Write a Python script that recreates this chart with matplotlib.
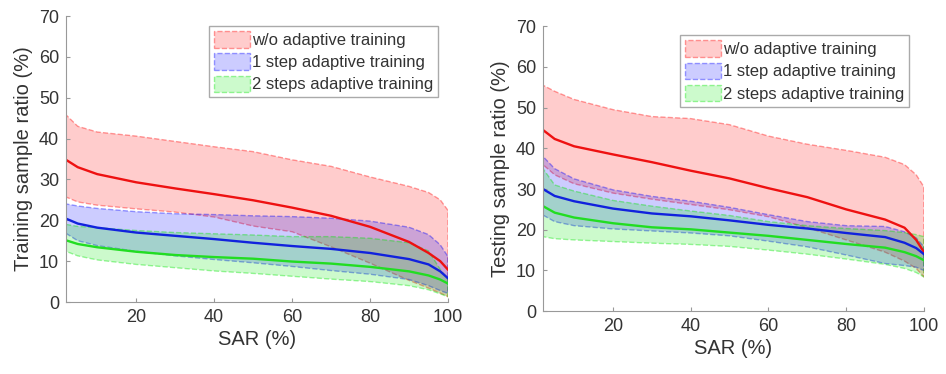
import numpy as np
import matplotlib.pyplot as plt

plt.rcParams['font.family'] = ['Liberation Sans', 'DejaVu Sans']

# SAR (%) sample points
sar = [2, 5, 10, 20, 30, 40, 50, 60, 70, 80, 90, 95, 98, 100]

# training panel: mean / upper / lower for each method
train_wo_mean = [34.8, 33.0, 31.3, 29.3, 27.8, 26.4, 24.9, 23.1, 21.1, 18.4, 14.7, 12.0, 10.0, 7.9]
train_wo_up = [45.8, 43.0, 41.6, 40.6, 39.3, 38.0, 36.8, 34.8, 33.2, 30.6, 28.3, 26.8, 25.0, 22.4]
train_wo_lo = [25.7, 24.5, 23.7, 22.8, 22.0, 20.8, 18.6, 17.2, 13.5, 9.5, 5.3, 3.4, 2.2, 1.3]
train_1s_mean = [20.4, 19.2, 18.2, 17.0, 16.2, 15.4, 14.5, 13.7, 13.0, 12.0, 10.5, 9.2, 7.5, 5.8]
train_1s_up = [24.0, 23.5, 22.9, 22.1, 21.6, 21.4, 21.1, 20.9, 20.5, 19.8, 18.3, 16.5, 14.0, 11.1]
train_1s_lo = [16.8, 15.0, 13.8, 12.4, 11.3, 10.4, 9.6, 8.7, 7.7, 6.8, 5.5, 4.0, 2.8, 2.1]
train_2s_mean = [15.1, 14.2, 13.4, 12.3, 11.5, 11.0, 10.6, 9.9, 9.4, 8.6, 7.5, 6.5, 5.5, 4.5]
train_2s_up = [19.0, 18.5, 18.2, 17.5, 17.0, 16.7, 16.4, 16.0, 16.0, 15.6, 14.5, 12.5, 8.0, 5.5]
train_2s_lo = [12.4, 11.3, 10.3, 9.2, 8.4, 7.6, 7.0, 6.3, 5.6, 5.0, 4.0, 3.0, 2.0, 1.3]

# testing panel
test_wo_mean = [44.5, 42.3, 40.5, 38.5, 36.6, 34.5, 32.6, 30.2, 28.0, 25.0, 22.5, 20.5, 17.5, 14.5]
test_wo_up = [55.5, 54.0, 52.0, 49.5, 47.8, 47.3, 45.8, 43.0, 41.0, 39.5, 37.8, 36.0, 33.5, 30.5]
test_wo_lo = [36.0, 33.5, 31.3, 29.0, 27.5, 26.2, 24.9, 23.2, 20.5, 17.5, 14.5, 12.3, 10.5, 8.4]
test_1s_mean = [30.0, 28.3, 27.0, 25.2, 24.0, 23.3, 22.3, 21.2, 20.3, 19.2, 18.2, 16.8, 15.5, 14.0]
test_1s_up = [38.0, 35.0, 32.5, 29.8, 28.2, 27.0, 25.5, 23.7, 22.0, 21.0, 20.8, 19.5, 18.0, 15.8]
test_1s_lo = [23.6, 22.0, 21.0, 20.2, 19.7, 19.2, 18.5, 17.2, 15.8, 13.8, 11.7, 11.2, 10.8, 10.0]
test_2s_mean = [25.8, 24.2, 23.0, 21.6, 20.6, 20.1, 19.3, 18.5, 17.5, 16.5, 15.6, 14.5, 13.5, 12.5]
test_2s_up = [35.0, 31.0, 29.5, 27.2, 25.8, 24.6, 23.5, 22.0, 21.0, 20.3, 19.8, 19.3, 18.8, 18.3]
test_2s_lo = [18.3, 17.8, 17.5, 17.1, 16.7, 16.4, 15.9, 15.0, 14.0, 12.8, 11.5, 10.5, 9.5, 8.4]

labels = ['w/o adaptive training', '1 step adaptive training', '2 steps adaptive training']
colors = [(1, 0, 0), (0, 0, 1), (0, 0.9, 0)]
line_colors = ['#ee1111', '#1122dd', '#22dd22']

panels = [
    ('Training sample ratio (%)',
     [(train_wo_mean, train_wo_up, train_wo_lo),
      (train_1s_mean, train_1s_up, train_1s_lo),
      (train_2s_mean, train_2s_up, train_2s_lo)],
     [0.0698, 0.1925, 0.4038, 0.7647], (0.974, 0.965)),
    ('Testing sample ratio (%)',
     [(test_wo_mean, test_wo_up, test_wo_lo),
      (test_1s_mean, test_1s_up, test_1s_lo),
      (test_2s_mean, test_2s_up, test_2s_lo)],
     [0.574, 0.168, 0.4027, 0.762], (0.961, 0.968)),
]

fig = plt.figure(figsize=(9.46, 3.74), dpi=100)
txt = '#333333'

for ylab, series, rect, leg_pos in panels:
    ax = fig.add_axes(rect)
    handles = []
    for (m, up, lo), c, lab in zip(series, colors, labels):
        h = ax.fill_between(sar, lo, up, facecolor=c + (0.2,),
                            edgecolor=c + (0.38,), linestyle='--', linewidth=1.0,
                            label=lab)
        handles.append(h)
    for (m, up, lo), lc in zip(series, line_colors):
        ax.plot(sar, m, color=lc, linewidth=1.7)

    ax.set_xlim(2, 100)
    ax.set_ylim(0, 70)
    ax.set_xticks([20, 40, 60, 80, 100])
    ax.set_yticks(range(0, 71, 10))
    ax.tick_params(direction='in', length=3, labelsize=13, colors='#999999',
                   labelcolor=txt, pad=5)
    for s in ['top', 'right']:
        ax.spines[s].set_visible(False)
    for s in ['left', 'bottom']:
        ax.spines[s].set_color('#999999')
    ax.set_xlabel('SAR (%)', fontsize=14.5, color=txt, labelpad=3)
    ax.set_ylabel(ylab, fontsize=14.5, color=txt, labelpad=4)

    leg = ax.legend(handles=handles, loc='upper right', bbox_to_anchor=leg_pos,
                    borderaxespad=0, fontsize=12, handlelength=2.2,
                    handleheight=1.15, handletextpad=0.1, labelspacing=0.32,
                    borderpad=0.3, fancybox=False, framealpha=1,
                    edgecolor='#aaaaaa', labelcolor=txt)
    leg.get_frame().set_linewidth(1.0)

fig.savefig('out.png', dpi=100)
